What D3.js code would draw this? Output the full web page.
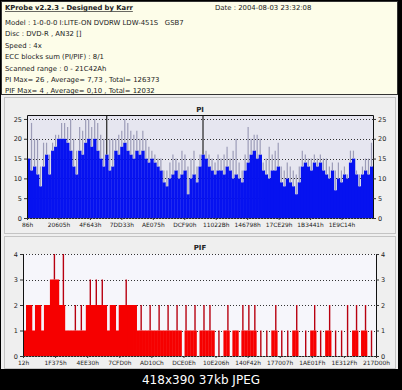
<!DOCTYPE html>
<html>
<head>
<meta charset="utf-8">
<script src="https://cdn.jsdelivr.net/npm/d3@7/dist/d3.min.js"></script>
<style>
  html, body { margin: 0; padding: 0; background: #000; }
  svg { display: block; }
  text { font-family: "DejaVu Sans", Verdana, sans-serif; white-space: pre; }
</style>
</head>
<body>
<div id="chart"></div>
<script>
// header text of the KProbe report
const titleText = "KProbe v2.2.3 - Designed by Karr";
const dateText = "Date : 2004-08-03 23:32:08";
const infoLines = [
    "Model : 1-0-0-0 I:LITE-ON DVDRW LDW-451S   GSB7",
    "Disc : DVD-R , AN32 []",
    "Speed : 4x",
    "ECC blocks sum (PI/PIF) : 8/1",
    "Scanned range : 0 - 21C42Ah",
    "PI Max= 26 , Average= 7,73 , Total= 126373",
    "PIF Max= 4 , Average= 0,10 , Total= 12032"
];

// PI chart
const piTicks = [0, 5, 10, 15, 20, 25];
const piLabels = ["86h", "20605h", "4F643h", "7DD33h", "AE075h", "DCF90h",
    "11022Bh", "146798h", "17CE29h", "1B3441h", "1E9C14h"];
// dense level of each sample and the spike that sticks out of it
const piLevel = [15,12,13,11,8,13,16,11,17,18, 20,20,20,19,17,13,11,17,16,19,
    20,18,20,17,15,13,16,12,13,17, 16,18,19,17,16,15,17,16,17,15,
    14,15,14,13,12,9,8,10,11,12, 10,11,12,6,10,11,9,13,16,15,
    13,12,11,12,12,11,13,12,10,11, 10,9,12,14,16,17,15,16,12,11,
    10,12,12,13,9,8,10,9,8,6, 9,13,14,13,12,14,13,14,12,11,
    10,12,7,10,9,11,10,14,15,11, 8,11,12,11,13];
const piPeak = [15,24,20,20,13,19,19,16,19,21, 21,24,24,23,25,20,17,23,22,25,
    25,23,25,24,21,20,26,20,20,20, 21,22,25,24,22,21,22,20,22,20,
    18,17,16,15,15,12,12,14,16,15, 14,17,16,13,15,17,13,16,26,17,
    16,15,14,16,15,16,18,15,17,20, 14,12,16,23,20,21,21,20,14,15,
    18,16,17,19,13,12,14,13,12,11, 13,17,16,15,15,16,15,16,15,15,
    13,14,12,14,12,13,11,17,17,12, 11,13,15,15,19];

// PIF chart
const pifTicks = [0, 1, 2, 3, 4];
const pifLabels = ["12h", "1F375h", "4EE30h", "7CFD0h", "AD10Ch", "DCE0Eh",
    "10E206h", "140F42h", "177007h", "1AE01Fh", "1E312Fh", "217D00h"];
const pifValues = [1,2,2,1,2,2,1,2,2,3, 4,3,2,4,1,1,1,2,1,2,
    1,2,3,2,3,2,3,2,1,2, 2,1,2,2,3,2,2,2,1,2,
    1,1,2,1,1,2,1,1,2,1, 1,2,1,0,2,1,1,2,0,1,
    2,1,2,1,0,1,0,1,2,0, 1,1,0,2,1,2,1,2,0,1,
    0,1,0,1,2,0,1,0,1,0, 1,2,0,0,1,0,1,2,0,1,
    0,1,2,0,1,0,1,0,2,0, 1,2,0,1,2,0,1,0];

const W = 402, H = 390;

const svg = d3.select("#chart").append("svg")
    .attr("width", W)
    .attr("height", H);

svg.append("rect").attr("width", W).attr("height", H).attr("fill", "#000");
svg.append("rect").attr("x", 1).attr("y", 1).attr("width", 397).attr("height", 368)
    .attr("fill", "#efefef");

// header box
const header = svg.append("g");
header.append("rect")
    .attr("x", 1.5).attr("y", 1.5).attr("width", 396).attr("height", 93)
    .attr("fill", "#fdfde9").attr("stroke", "#333");
header.append("text")
    .attr("x", 5).attr("y", 10)
    .attr("font-size", 6.8).attr("font-weight", "bold")
    .attr("text-decoration", "underline")
    .attr("fill", "#222")
    .text(titleText);
header.append("text")
    .attr("x", 215).attr("y", 10)
    .attr("font-size", 6.9).attr("fill", "#222")
    .text(dateText);
header.selectAll("text.info")
    .data(infoLines)
    .join("text")
    .attr("class", "info")
    .attr("x", 5)
    .attr("y", (d, i) => 25 + i * 11.4)
    .attr("font-size", 6.9)
    .attr("fill", "#222")
    .text(d => d);

function drawChart(opt) {
    const g = svg.append("g");

    // panel
    g.append("rect")
        .attr("x", 4.5).attr("y", opt.panelTop + 0.5)
        .attr("width", 391).attr("height", opt.panelHeight)
        .attr("fill", "#efefef").attr("stroke", "#c4c4c4");

    g.append("text")
        .attr("x", 200).attr("y", opt.titleY)
        .attr("text-anchor", "middle")
        .attr("font-size", 7).attr("font-weight", "bold")
        .attr("fill", "#222")
        .text(opt.title);

    const y = d3.scaleLinear().domain([0, opt.yMax]).range([opt.bottom, opt.top]);
    const x = d3.scaleLinear().domain([0, opt.n]).range([opt.left, opt.right]);
    const xl = d3.scaleLinear().domain([0, 11]).range([opt.left, opt.right]);

    // plot background
    g.append("rect")
        .attr("x", opt.left).attr("y", opt.top)
        .attr("width", opt.right - opt.left).attr("height", opt.bottom - opt.top)
        .attr("fill", opt.plotBg);

    // dotted grid
    g.selectAll("line.grid")
        .data(opt.ticks)
        .join("line")
        .attr("class", "grid")
        .attr("x1", opt.left).attr("x2", opt.right)
        .attr("y1", d => Math.round(y(d)) + 0.5).attr("y2", d => Math.round(y(d)) + 0.5)
        .attr("stroke", "#333").attr("stroke-width", 1)
        .attr("stroke-dasharray", "1,2");

    opt.drawBars(g, x, y);

    // frame: solid sides, top solid only when it is not a grid line
    const fl = opt.left + 0.5, fr = opt.right + 0.5;
    const ft = opt.top + 0.5, fb = opt.bottom + 0.5;
    g.append("path")
        .attr("d", `M${fl},${fb}V${ft}M${fr},${fb}V${ft}`)
        .attr("stroke", "#111").attr("fill", "none");
    if (!opt.ticks.includes(opt.yMax)) {
        g.append("path")
            .attr("d", `M${fl},${ft}H${fr}`)
            .attr("stroke", "#111").attr("fill", "none");
    }
    g.append("path")
        .attr("d", `M${fl},${fb}H${fr}`)
        .attr("stroke", "#222").attr("fill", "none")
        .attr("stroke-dasharray", "2,1");

    const styleAxis = sel => {
        sel.select(".domain").remove();
        sel.selectAll("text")
            .attr("font-family", "DejaVu Sans, Verdana, sans-serif")
            .attr("font-size", 6.5)
            .attr("fill", "#222");
        sel.selectAll("line").attr("stroke", "#333");
    };

    g.append("g")
        .attr("transform", `translate(${opt.left},0)`)
        .call(d3.axisLeft(y).tickValues(opt.ticks).tickFormat(d3.format("d"))
            .tickSize(3).tickPadding(2))
        .call(styleAxis);
    g.append("g")
        .attr("transform", `translate(${opt.right},0)`)
        .call(d3.axisRight(y).tickValues(opt.ticks).tickFormat(d3.format("d"))
            .tickSize(3).tickPadding(2))
        .call(styleAxis);
    g.append("g")
        .attr("transform", `translate(0,${opt.bottom})`)
        .call(d3.axisBottom(xl)
            .tickValues(d3.range(opt.labels.length))
            .tickFormat(i => opt.labels[i])
            .tickSize(2).tickPadding(3))
        .call(styleAxis)
        .call(sel => sel.selectAll("text").attr("font-size", 5.9));
}

// PI
drawChart({
    title: "PI", titleY: 112,
    panelTop: 97, panelHeight: 136,
    left: 27, right: 373, top: 115, bottom: 218,
    yMax: 26, ticks: piTicks, labels: piLabels,
    n: piLevel.length, plotBg: "#e6e6f0",
    drawBars: (g, x, y) => {
        g.selectAll("rect.pi")
            .data(piLevel)
            .join("rect")
            .attr("class", "pi")
            .attr("x", (d, i) => x(i))
            .attr("width", (d, i) => x(i + 1) - x(i) + 0.3)
            .attr("y", d => y(d))
            .attr("height", d => y(0) - y(d))
            .attr("fill", "#0612f0");
        g.selectAll("line.peak")
            .data(piPeak)
            .join("line")
            .attr("class", "peak")
            .attr("x1", (d, i) => x(i + 0.5)).attr("x2", (d, i) => x(i + 0.5))
            .attr("y1", (d, i) => y(piLevel[i])).attr("y2", d => y(d))
            .attr("stroke", d => d >= 26 ? "#222" : "#9c9cb8")
            .attr("stroke-width", 1.2);
    }
});

// PIF
drawChart({
    title: "PIF", titleY: 250,
    panelTop: 236, panelHeight: 132,
    left: 23, right: 376, top: 254, bottom: 356,
    yMax: 4, ticks: pifTicks, labels: pifLabels,
    n: pifValues.length, plotBg: "#f6f6fb",
    drawBars: (g, x, y) => {
        const base = pifValues.map((v, i) => {
            const prev = i > 0 ? pifValues[i - 1] : 0;
            const next = i < pifValues.length - 1 ? pifValues[i + 1] : 0;
            return Math.min(v, Math.max(prev, next));
        });
        g.selectAll("rect.pif")
            .data(base)
            .join("rect")
            .attr("class", "pif")
            .attr("x", (d, i) => x(i))
            .attr("width", (d, i) => x(i + 1) - x(i) + 0.3)
            .attr("y", d => y(d))
            .attr("height", d => y(0) - y(d))
            .attr("fill", "#f60000");
        g.selectAll("line.pifspike")
            .data(pifValues)
            .join("line")
            .attr("class", "pifspike")
            .attr("x1", (d, i) => x(i + 0.5)).attr("x2", (d, i) => x(i + 0.5))
            .attr("y1", (d, i) => y(base[i])).attr("y2", d => y(d))
            .attr("stroke", "#b80010")
            .attr("stroke-width", 1.4);
    }
});

// caption strip
svg.append("text")
    .attr("x", 201).attr("y", 384)
    .attr("text-anchor", "middle")
    .attr("font-family", "Liberation Sans, Arial, sans-serif")
    .attr("font-size", 12)
    .attr("fill", "#fff")
    .text("418x390 37kb JPEG");
</script>
</body>
</html>
